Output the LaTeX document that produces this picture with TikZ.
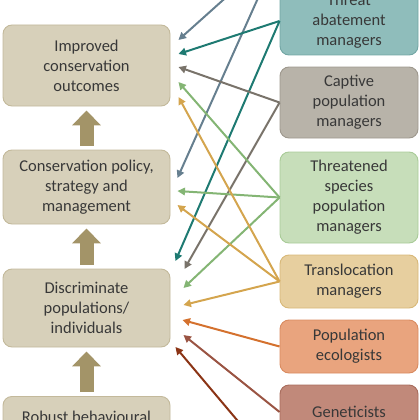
\documentclass[tikz,border=0pt]{standalone}
\usepackage{fontspec}
\setmainfont{Carlito}
\usepackage{xcolor}
\usetikzlibrary{arrows.meta,positioning,calc}
\definecolor{csink}{HTML}{383838}
\definecolor{csgoal}{HTML}{D7D0BA}
\definecolor{csgoalln}{HTML}{C3B99B}
\definecolor{cslift}{HTML}{A39468}
\definecolor{csthr}{HTML}{8FBDBB}
\definecolor{csthrln}{HTML}{72A6A4}
\definecolor{cscap}{HTML}{B8B3A9}
\definecolor{cscapln}{HTML}{9E988D}
\definecolor{csths}{HTML}{C7DEBA}
\definecolor{csthsln}{HTML}{A9CB98}
\definecolor{cstra}{HTML}{E7CF9F}
\definecolor{cstraln}{HTML}{D8B878}
\definecolor{cspop}{HTML}{E9A47E}
\definecolor{cspopln}{HTML}{D98B60}
\definecolor{csgen}{HTML}{C1897A}
\definecolor{csgenln}{HTML}{A86C5C}
\definecolor{csslate}{HTML}{667F8F}
\definecolor{csteal}{HTML}{1E7A72}
\definecolor{csgray}{HTML}{79736A}
\definecolor{csgreen}{HTML}{84B574}
\definecolor{csgold}{HTML}{D4A54E}
\definecolor{csorange}{HTML}{D4712E}
\definecolor{csbrown}{HTML}{9A5443}
\definecolor{csdark}{HTML}{8B3415}
\tikzset{
  goal/.style={rectangle,rounded corners=9pt,draw=csgoalln,line width=0.9pt,
               fill=csgoal,minimum width=167pt,align=center,text=csink,
               font=\fontsize{16.5}{20}\selectfont},
  role/.style={rectangle,rounded corners=9pt,line width=0.9pt,
               minimum width=138pt,align=center,text=csink,
               font=\fontsize{16.5}{20}\selectfont},
  lift/.style={-{Triangle[length=15pt,width=28pt]},line width=14pt,draw=cslift,
               shorten <=4pt,shorten >=4pt},
  link/.style={-{Triangle[length=7.5pt,width=7.5pt]},line width=2pt},
}
\begin{document}
\begin{tikzpicture}[x=1pt,y=1pt]
\useasboundingbox (0,0) rectangle (420,-420);
\clip (0,0) rectangle (420,-420);
% outcome chain on the left
\node[goal,minimum height=81pt] (imp) at (86.5,-65.5) {Improved\\conservation\\outcomes};
\node[goal,minimum height=74pt] (pol) at (86.5,-187) {Conservation policy,\\strategy and\\management};
\node[goal,minimum height=78pt] (dis) at (86.5,-308) {Discriminate\\populations/\\individuals};
\node[goal,anchor=north,inner ysep=14pt,text height=12pt,text depth=45pt] (rob) at (86.5,-396) {Robust behavioural};
\draw[lift] (pol) -- (imp); \draw[lift] (dis) -- (pol); \draw[lift] (rob) -- (dis);
% user groups on the right
\node[role,fill=csthr,draw=csthrln,minimum height=68pt] (thr) at (349,-21) {Threat\\abatement\\managers};
\node[role,fill=cscap,draw=cscapln,minimum height=71pt] (cap) at (349,-102.5) {Captive\\population\\managers};
\node[role,fill=csths,draw=csthsln,minimum height=91pt] (ths) at (349,-197.5) {Threatened\\species\\population\\managers};
\node[role,fill=cstra,draw=cstraln,minimum height=53pt] (tra) at (349,-281.5) {Translocation\\managers};
\node[role,fill=cspop,draw=cspopln,minimum height=53pt] (pop) at (349,-346.5) {Population\\ecologists};
\node[role,fill=csgen,draw=csgenln,minimum height=54pt] (gen) at (349,-412) {Geneticists};
\coordinate (up) at (280,51);
\coordinate (dn) at (280,-471);
% links
\draw[link,color=csslate] (up) -- ([shift={(8,25.5)}]imp.east);
\draw[link,color=csslate] (up) -- ([shift={(7,9)}]pol.east);
\draw[link,color=csteal] (thr.west) -- ([shift={(8,11.5)}]imp.east);
\draw[link,color=csteal] (thr.west) -- ([shift={(5,47)}]dis.east);
\draw[link,color=csgray] (cap.west) -- ([shift={(8,-1.5)}]imp.east);
\draw[link,color=csgray] (cap.west) -- ([shift={(14,39)}]dis.east);
\draw[link,color=csgreen] (ths.west) -- ([shift={(8,-16.5)}]imp.east);
\draw[link,color=csgreen] (ths.west) -- ([shift={(7,-4)}]pol.east);
\draw[link,color=csgreen] (ths.west) -- ([shift={(13,20)}]dis.east);
\draw[link,color=csgold] (tra.west) -- ([shift={(8,-31.5)}]imp.east);
\draw[link,color=csgold] (tra.west) -- ([shift={(7,-18)}]pol.east);
\draw[link,color=csgold] (tra.west) -- ([shift={(13,3)}]dis.east);
\draw[link,color=csorange] (pop.west) -- ([shift={(12,-12)}]dis.east);
\draw[link,color=csbrown] (gen.west) -- ([shift={(13,-27)}]dis.east);
\draw[link,color=csdark] (dn) -- ([shift={(5,-39)}]dis.east);
\end{tikzpicture}
\end{document}
